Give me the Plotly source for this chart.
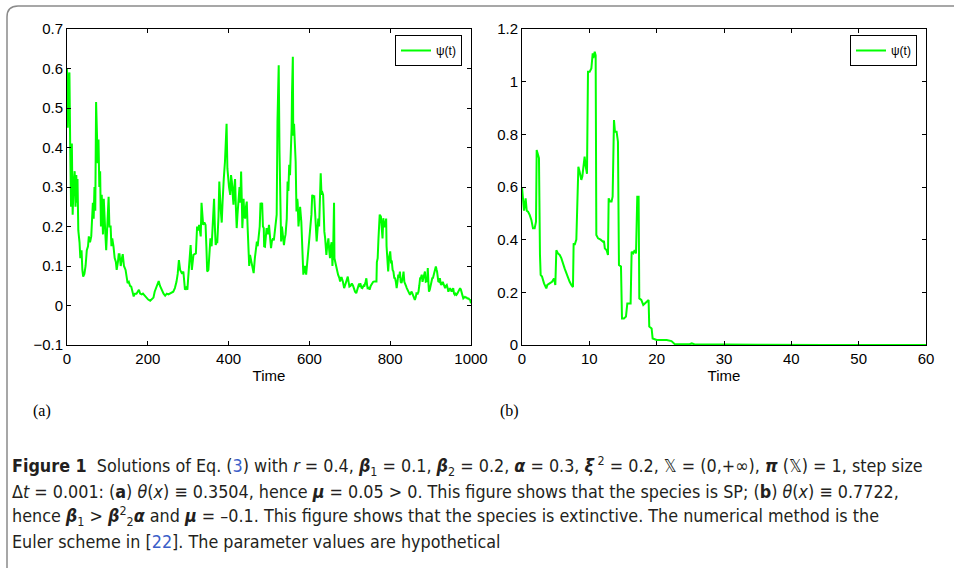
import plotly.graph_objects as go

# ---------------- data ----------------
time_a = [0, 2, 4, 6, 8, 10, 12, 14, 16, 19, 21, 23, 25, 26, 28, 31, 33, 36, 38, 40, 43, 46, 49, 52, 54, 57, 60, 62, 64, 66, 68, 70, 72, 74, 76, 78, 80, 82, 84, 86, 88, 89, 91, 93, 95, 97, 100, 103, 105, 108, 110, 112, 115, 118, 121, 123, 126, 128, 130, 133, 136, 138, 141, 145, 148, 150, 153, 156, 159, 162, 165, 168, 172, 175, 178, 181, 185, 188, 192, 197, 201, 206, 210, 214, 217, 219, 223, 227, 230, 234, 237, 239, 243, 247, 251, 255, 259, 263, 267, 271, 274, 277, 280, 282, 285, 288, 290, 292, 295, 298, 300, 302, 304, 306, 309, 311, 313, 316, 319, 322, 325, 327, 329, 331, 333, 335, 337, 340, 343, 345, 347, 350, 352, 355, 358, 360, 362, 364, 366, 368, 370, 372, 375, 377, 380, 383, 385, 386, 388, 391, 393, 395, 397, 399, 401, 404, 406, 408, 410, 412, 414, 416, 418, 420, 422, 424, 427, 429, 431, 433, 434, 436, 437, 439, 441, 443, 445, 447, 449, 451, 453, 456, 459, 462, 465, 468, 470, 472, 474, 477, 479, 481, 483, 485, 487, 488, 490, 492, 494, 497, 500, 502, 505, 507, 510, 512, 515, 518, 519, 521, 523, 524, 526, 528, 530, 532, 534, 537, 539, 541, 544, 546, 548, 550, 552, 554, 556, 557, 559, 560, 562, 564, 566, 568, 570, 571, 573, 575, 577, 580, 582, 583, 585, 587, 589, 592, 594, 596, 598, 600, 603, 605, 607, 610, 612, 614, 616, 618, 620, 622, 624, 626, 628, 630, 631, 634, 636, 637, 639, 642, 644, 647, 649, 651, 653, 655, 657, 659, 661, 662, 664, 666, 668, 671, 674, 676, 678, 680, 683, 686, 688, 691, 693, 695, 697, 699, 702, 705, 708, 711, 713, 716, 719, 722, 724, 726, 729, 731, 734, 736, 739, 741, 743, 744, 747, 749, 752, 755, 758, 761, 764, 766, 767, 769, 771, 773, 774, 777, 779, 781, 783, 785, 787, 790, 791, 792, 794, 795, 797, 800, 802, 804, 806, 808, 810, 812, 814, 816, 818, 820, 822, 824, 826, 828, 831, 833, 835, 837, 839, 841, 843, 845, 847, 849, 851, 853, 855, 857, 859, 861, 863, 865, 868, 870, 872, 874, 876, 878, 880, 882, 884, 886, 888, 890, 892, 893, 895, 896, 898, 900, 902, 904, 906, 909, 911, 913, 915, 916, 918, 919, 921, 923, 925, 927, 930, 932, 934, 936, 938, 940, 942, 944, 946, 948, 950, 952, 954, 956, 958, 960, 962, 964, 966, 969, 971, 973, 975, 977, 979, 981, 983, 985, 987, 989, 991, 994, 996, 998, 1000]
psi_a = [0.60, 0.45, 0.58, 0.59, 0.40, 0.25, 0.41, 0.23, 0.30, 0.34, 0.25, 0.33, 0.26, 0.32, 0.19, 0.16, 0.12, 0.14, 0.09, 0.073, 0.08, 0.10, 0.14, 0.15, 0.175, 0.16, 0.175, 0.205, 0.26, 0.22, 0.30, 0.24, 0.515, 0.44, 0.36, 0.42, 0.30, 0.34, 0.20, 0.28, 0.22, 0.18, 0.27, 0.20, 0.18, 0.14, 0.20, 0.275, 0.20, 0.20, 0.15, 0.17, 0.15, 0.12, 0.11, 0.09, 0.11, 0.13, 0.13, 0.10, 0.12, 0.13, 0.10, 0.09, 0.07, 0.057, 0.06, 0.05, 0.048, 0.035, 0.023, 0.03, 0.03, 0.035, 0.04, 0.03, 0.028, 0.03, 0.025, 0.02, 0.015, 0.012, 0.015, 0.02, 0.035, 0.04, 0.05, 0.062, 0.05, 0.04, 0.035, 0.03, 0.025, 0.03, 0.028, 0.03, 0.031, 0.035, 0.044, 0.06, 0.08, 0.115, 0.09, 0.086, 0.08, 0.086, 0.06, 0.04, 0.045, 0.04, 0.07, 0.10, 0.12, 0.153, 0.09, 0.11, 0.128, 0.13, 0.132, 0.20, 0.19, 0.204, 0.18, 0.175, 0.26, 0.22, 0.204, 0.21, 0.204, 0.15, 0.086, 0.09, 0.12, 0.17, 0.15, 0.204, 0.22, 0.27, 0.20, 0.153, 0.16, 0.16, 0.225, 0.314, 0.25, 0.21, 0.26, 0.29, 0.32, 0.364, 0.40, 0.46, 0.347, 0.31, 0.30, 0.28, 0.33, 0.314, 0.27, 0.255, 0.30, 0.32, 0.25, 0.196, 0.23, 0.27, 0.30, 0.26, 0.339, 0.25, 0.196, 0.24, 0.27, 0.23, 0.22, 0.25, 0.263, 0.20, 0.137, 0.10, 0.128, 0.11, 0.09, 0.082, 0.12, 0.15, 0.162, 0.15, 0.165, 0.20, 0.26, 0.25, 0.26, 0.20, 0.196, 0.15, 0.149, 0.17, 0.196, 0.18, 0.204, 0.18, 0.145, 0.162, 0.17, 0.165, 0.196, 0.21, 0.23, 0.465, 0.55, 0.608, 0.39, 0.27, 0.162, 0.20, 0.18, 0.153, 0.17, 0.18, 0.22, 0.314, 0.29, 0.356, 0.33, 0.38, 0.45, 0.54, 0.63, 0.43, 0.46, 0.41, 0.364, 0.238, 0.27, 0.26, 0.20, 0.23, 0.25, 0.212, 0.16, 0.128, 0.078, 0.09, 0.10, 0.078, 0.10, 0.137, 0.15, 0.162, 0.204, 0.23, 0.28, 0.275, 0.276, 0.24, 0.204, 0.162, 0.19, 0.22, 0.20, 0.27, 0.335, 0.28, 0.29, 0.28, 0.20, 0.187, 0.17, 0.128, 0.15, 0.17, 0.14, 0.12, 0.15, 0.16, 0.10, 0.15, 0.26, 0.12, 0.11, 0.10, 0.09, 0.078, 0.07, 0.061, 0.07, 0.07, 0.06, 0.044, 0.05, 0.061, 0.07, 0.073, 0.06, 0.048, 0.05, 0.056, 0.05, 0.04, 0.035, 0.031, 0.045, 0.052, 0.05, 0.056, 0.045, 0.044, 0.05, 0.048, 0.06, 0.069, 0.05, 0.044, 0.045, 0.04, 0.05, 0.056, 0.06, 0.061, 0.06, 0.061, 0.11, 0.12, 0.17, 0.20, 0.23, 0.225, 0.20, 0.17, 0.221, 0.20, 0.20, 0.22, 0.15, 0.137, 0.10, 0.086, 0.12, 0.137, 0.11, 0.111, 0.09, 0.086, 0.07, 0.069, 0.06, 0.044, 0.06, 0.078, 0.07, 0.086, 0.06, 0.057, 0.07, 0.086, 0.06, 0.052, 0.05, 0.044, 0.04, 0.035, 0.03, 0.027, 0.032, 0.035, 0.03, 0.023, 0.02, 0.014, 0.02, 0.031, 0.03, 0.035, 0.05, 0.069, 0.07, 0.078, 0.06, 0.069, 0.08, 0.086, 0.06, 0.061, 0.07, 0.095, 0.05, 0.035, 0.04, 0.052, 0.06, 0.069, 0.07, 0.086, 0.09, 0.099, 0.09, 0.086, 0.07, 0.061, 0.06, 0.069, 0.055, 0.052, 0.06, 0.056, 0.05, 0.044, 0.05, 0.052, 0.045, 0.035, 0.04, 0.044, 0.04, 0.035, 0.04, 0.044, 0.03, 0.027, 0.03, 0.027, 0.03, 0.035, 0.04, 0.044, 0.04, 0.035, 0.025, 0.018, 0.02, 0.022, 0.02, 0.02, 0.018, 0.018, 0.015, 0.014, 0.006]

time_b = [0, 0.15, 0.3, 0.54, 0.7, 0.9, 1.14, 1.39, 1.63, 1.88, 2.08, 2.18, 2.38, 2.52, 2.67, 2.77, 2.97, 3.27, 3.61, 3.76, 4.1, 4.46, 4.75, 4.95, 5.1, 5.35, 5.6, 5.84, 6.34, 6.73, 7.08, 7.33, 7.57, 7.67, 7.82, 8.07, 8.2, 8.37, 8.56, 8.81, 8.96, 9.16, 9.3, 9.45, 9.65, 9.8, 10.05, 10.3, 10.5, 10.6, 10.8, 10.94, 11.04, 11.3, 11.68, 12.03, 12.17, 12.3, 12.57, 12.77, 12.87, 13.07, 13.3, 13.46, 13.66, 13.8, 14.05, 14.25, 14.4, 14.7, 14.85, 15.14, 15.44, 15.64, 15.94, 16.13, 16.28, 16.53, 16.73, 16.93, 17.12, 17.32, 17.42, 17.72, 18.01, 18.31, 18.6, 18.8, 18.9, 19.25, 19.4, 20.0, 20.7, 21.5, 22.2, 22.7, 24.9, 25.2, 25.6, 28, 31, 35, 45, 60]
psi_b = [0.60, 0.53, 0.51, 0.557, 0.51, 0.506, 0.494, 0.475, 0.443, 0.443, 0.468, 0.74, 0.72, 0.71, 0.342, 0.266, 0.26, 0.234, 0.215, 0.228, 0.234, 0.24, 0.253, 0.228, 0.36, 0.348, 0.342, 0.33, 0.29, 0.26, 0.24, 0.228, 0.22, 0.386, 0.38, 0.40, 0.506, 0.677, 0.658, 0.627, 0.64, 0.69, 0.715, 0.68, 0.65, 1.038, 1.038, 1.05, 1.108, 1.09, 1.114, 1.10, 0.418, 0.405, 0.40, 0.392, 0.395, 0.367, 0.36, 0.342, 0.557, 0.545, 0.545, 0.563, 0.854, 0.81, 0.81, 0.772, 0.304, 0.298, 0.101, 0.101, 0.108, 0.158, 0.158, 0.158, 0.354, 0.348, 0.36, 0.348, 0.563, 0.563, 0.177, 0.171, 0.152, 0.158, 0.165, 0.171, 0.07, 0.063, 0.025, 0.019, 0.019, 0.019, 0.015, 0.003, 0.003, 0.006, 0.003, 0.002, 0.001, 0.0005, 0.0003, 0.0002]

xticks_a = [0, 200, 400, 600, 800, 1000]
yticks_a = [-0.1, 0, 0.1, 0.2, 0.3, 0.4, 0.5, 0.6, 0.7]
xticks_b = [0, 10, 20, 30, 40, 50, 60]
yticks_b = [0, 0.2, 0.4, 0.6, 0.8, 1, 1.2]

legend_label = "\u03c8(t)"
x_title = "Time"
panel_labels = ["(a)", "(b)"]
caption_lines = [
    "<b>Figure 1</b>  Solutions of Eq. (<span style='color:#3b5fc9'>3</span>) with <i>r</i> = 0.4, <b><i>\u03b2</i></b><sub>1</sub> = 0.1, <b><i>\u03b2</i></b><sub>2</sub> = 0.2, <b><i>\u03b1</i></b> = 0.3, <b><i>\u03be</i></b><sup> 2</sup> = 0.2, \U0001D54F = (0,+\u221e), <b><i>\u03c0</i></b> (\U0001D54F) = 1, step size",
    "\u0394<i>t</i> = 0.001: (<b>a</b>) <i>\u03b8</i>(<i>x</i>) \u2261 0.3504, hence <b><i>\u03bc</i></b> = 0.05 > 0. This figure shows that the species is SP; (<b>b</b>) <i>\u03b8</i>(<i>x</i>) \u2261 0.7722,",
    "hence <b><i>\u03b2</i></b><sub>1</sub> > <b><i>\u03b2</i></b><sup>2</sup><sub>2</sub><b><i>\u03b1</i></b> and <b><i>\u03bc</i></b> = \u20130.1. This figure shows that the species is extinctive. The numerical method is the",
    "Euler scheme in [<span style='color:#3b5fc9'>22</span>]. The parameter values are hypothetical",
]

W, H = 954, 568
GREEN = "#00ff00"
AXFONT = dict(family="Liberation Sans, Arial, sans-serif", size=15, color="black")

def px_x(p):
    return p / W

def px_y(p):
    return 1 - p / H

fig = go.Figure()
fig.add_trace(go.Scatter(x=time_a, y=psi_a, mode="lines", name=legend_label,
                         line=dict(color=GREEN, width=2), xaxis="x", yaxis="y",
                         legend="legend"))
fig.add_trace(go.Scatter(x=time_b, y=psi_b, mode="lines", name=legend_label,
                         line=dict(color=GREEN, width=2), xaxis="x2", yaxis="y2",
                         legend="legend2"))

common = dict(showline=True, linecolor="black", linewidth=1, mirror="ticks",
              ticks="inside", ticklen=4, tickcolor="black", tickwidth=1,
              showgrid=False, zeroline=False, tickfont=AXFONT, automargin=False)

legend_font = dict(family="Liberation Sans, Arial, sans-serif", size=12, color="black")

fig.update_layout(
    width=W, height=H, margin=dict(l=0, r=0, t=0, b=0, pad=0), autosize=False,
    paper_bgcolor="white", plot_bgcolor="white",
    xaxis=dict(domain=[px_x(67), px_x(471)], range=[0, 1000], tickvals=xticks_a,
               anchor="y", title=dict(text=x_title, font=AXFONT, standoff=4), **common),
    yaxis=dict(domain=[px_y(345), px_y(29)], range=[-0.1, 0.7], tickvals=yticks_a,
               anchor="x", **common),
    xaxis2=dict(domain=[px_x(522), px_x(926)], range=[0, 60], tickvals=xticks_b,
                anchor="y2", title=dict(text=x_title, font=AXFONT, standoff=4), **common),
    yaxis2=dict(domain=[px_y(345), px_y(29)], range=[0, 1.2], tickvals=yticks_b,
                anchor="x2", **common),
    legend=dict(x=px_x(462), y=px_y(35), xanchor="right", yanchor="top",
                bgcolor="white", bordercolor="black", borderwidth=1,
                font=legend_font, itemwidth=30, tracegroupgap=0),
    legend2=dict(x=px_x(917), y=px_y(35), xanchor="right", yanchor="top",
                 bgcolor="white", bordercolor="black", borderwidth=1,
                 font=legend_font, itemwidth=30, tracegroupgap=0),
    showlegend=True,
)

# frame around the figure (rounded top-left corner)
fig.add_shape(type="path", xref="paper", yref="paper",
              path=f"M {px_x(7)},{px_y(600)} L {px_x(7)},{px_y(17)} Q {px_x(7)},{px_y(6)} {px_x(18)},{px_y(6)} L {px_x(1000)},{px_y(6)}",
              line=dict(color="#8a8a8a", width=1.5))

# panel labels
for lbl, xp in zip(panel_labels, [31, 498]):
    fig.add_annotation(x=px_x(xp), y=px_y(411), xref="paper", yref="paper",
                       text=lbl, showarrow=False, xanchor="left", yanchor="middle",
                       font=dict(family="Liberation Serif, Times New Roman, serif", size=16, color="black"))

# caption
cap_font = dict(family="Liberation Sans Narrow, DejaVu Sans Condensed, Roboto Condensed, Liberation Sans, sans-serif",
                size=17.8, color="#231f20")
for i, line in enumerate(caption_lines):
    fig.add_annotation(x=px_x(10), y=px_y(466 + 25 * i), xref="paper", yref="paper",
                       text=line, showarrow=False, xanchor="left", yanchor="middle",
                       font=cap_font)

fig.write_html("out.html", config={"displayModeBar": False},
               post_script="document.body.style.margin='0';document.body.style.overflow='hidden';")
